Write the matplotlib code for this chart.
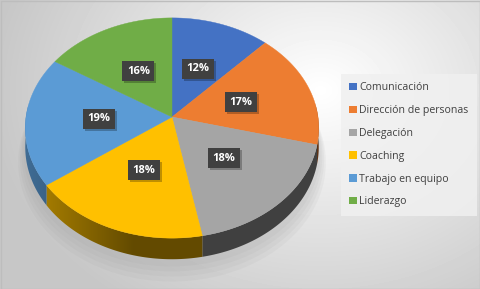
import numpy as np
import matplotlib.pyplot as plt
import matplotlib.patheffects as pe
from matplotlib.patches import Polygon, Patch
from matplotlib.colors import to_rgb

categories = ['Comunicación', 'Dirección de personas', 'Delegación',
              'Coaching', 'Trabajo en equipo', 'Liderazgo']
shares = [12, 17, 18, 18, 19, 16]
colors = ['#4472C4', '#ED7D31', '#A5A5A5', '#FFC000', '#5B9BD5', '#70AD47']

W, H = 481, 289
fig = plt.figure(figsize=(W / 100, H / 100), dpi=100)
ax = fig.add_axes([0, 0, 1, 1])
ax.set_xlim(0, W)
ax.set_ylim(H, 0)
ax.axis('off')

# radial grey background
yy, xx = np.mgrid[0:H, 0:W]
dist = np.hypot((xx - 320) / 330, (yy - 90) / 260)
bg = np.clip(1.0 - 0.22 * dist, 0.78, 1.0)
ax.imshow(bg, cmap='gray', vmin=0, vmax=1, extent=(0, W, H, 0),
          aspect='auto', zorder=0, interpolation='bilinear')
ax.add_patch(plt.Rectangle((0.5, 0.5), W - 1, H - 1, fill=False,
                           ec='#bdbdbd', lw=1, zorder=1))

# perspective pie geometry
cx, cy, a, b, k, depth = 172, 117, 146, 109, 0.1, 19


def proj(r, th, dz=0.0):
    c, s = r * np.cos(th), r * np.sin(th)
    f = 1 + k * s
    return cx + a * c / f, cy - b * s / f + dz / f


total = sum(shares)
cum = np.concatenate([[0], np.cumsum(shares)])
starts = np.pi / 2 - 2 * np.pi * cum[:-1] / total
ends = np.pi / 2 - 2 * np.pi * cum[1:] / total

# soft shadow under the pie
full = np.linspace(0, 2 * np.pi, 200)
for i, off in enumerate([14, 11, 8, 5]):
    sx, sy = proj(1.0 + 0.012 * (4 - i), full, depth + off)
    ax.add_patch(Polygon(np.c_[sx, sy], closed=True, fc='#8a8a8a', ec='none',
                         alpha=0.07, zorder=2))

# shading of the side wall along x (light comes from the left)
xs = np.linspace(0, W, 600)
shade = np.clip(0.42 + 0.42 * (-(xs - cx) / a - 0.34), 0.39, 0.8)

# side walls (front half only)
for t0, t1, col in zip(starts, ends, colors):
    th = np.linspace(t0, t1, 200)
    th = th[np.sin(th) < 0.12]
    if len(th) < 2:
        continue
    tx, ty = proj(1, th)
    bx, by = proj(1, th, depth)
    poly = Polygon(np.vstack([np.c_[tx, ty], np.c_[bx, by][::-1]]), closed=True,
                   fc='none', ec='none')
    ax.add_patch(poly)
    base = np.array(to_rgb(col))
    img = (shade[:, None] * base[None, :])[None, :, :]
    im = ax.imshow(img, extent=(0, W, H, 0), aspect='auto', zorder=3,
                   interpolation='bilinear')
    im.set_clip_path(poly)

# top face wedges
for t0, t1, col in zip(starts, ends, colors):
    th = np.linspace(t0, t1, 120)
    px, py = proj(1, th)
    pts = np.vstack([[cx, cy], np.c_[px, py]])
    ax.add_patch(Polygon(pts, closed=True, fc=col, ec=col, lw=0.3, zorder=4))

# data labels (dark boxes with a small drop shadow)
for t0, t1, v in zip(starts, ends, shares):
    lx, ly = proj(0.5, 0.5 * (t0 + t1))
    t = ax.text(lx, ly, f'{v}%', ha='center', va='center', fontsize=8,
                fontweight='bold', family='Open Sans', color='white', zorder=6,
                bbox=dict(boxstyle='square,pad=0.4', fc='#404040', ec='none'))
    t.get_bbox_patch().set_path_effects(
        [pe.SimplePatchShadow(offset=(1.5, -1.5), shadow_rgbFace='black', alpha=0.25),
         pe.Normal()])

# legend
handles = [Patch(fc=c, ec='none') for c in colors]
leg = fig.legend(handles, categories, loc='upper left',
                 bbox_to_anchor=(344 / W, 1 - 77 / H), frameon=True,
                 prop={'family': 'Open Sans', 'size': 7.6}, labelcolor='#404040',
                 handlelength=0.7, handleheight=0.7, handletextpad=0.25,
                 labelspacing=1.12, borderpad=0.5, borderaxespad=0)
leg.get_frame().set_facecolor('#f0f0f0')
leg.get_frame().set_edgecolor('none')
leg.get_frame().set_alpha(0.85)
leg.get_frame().set_boxstyle('square')

fig.savefig('out.png', dpi=100)
